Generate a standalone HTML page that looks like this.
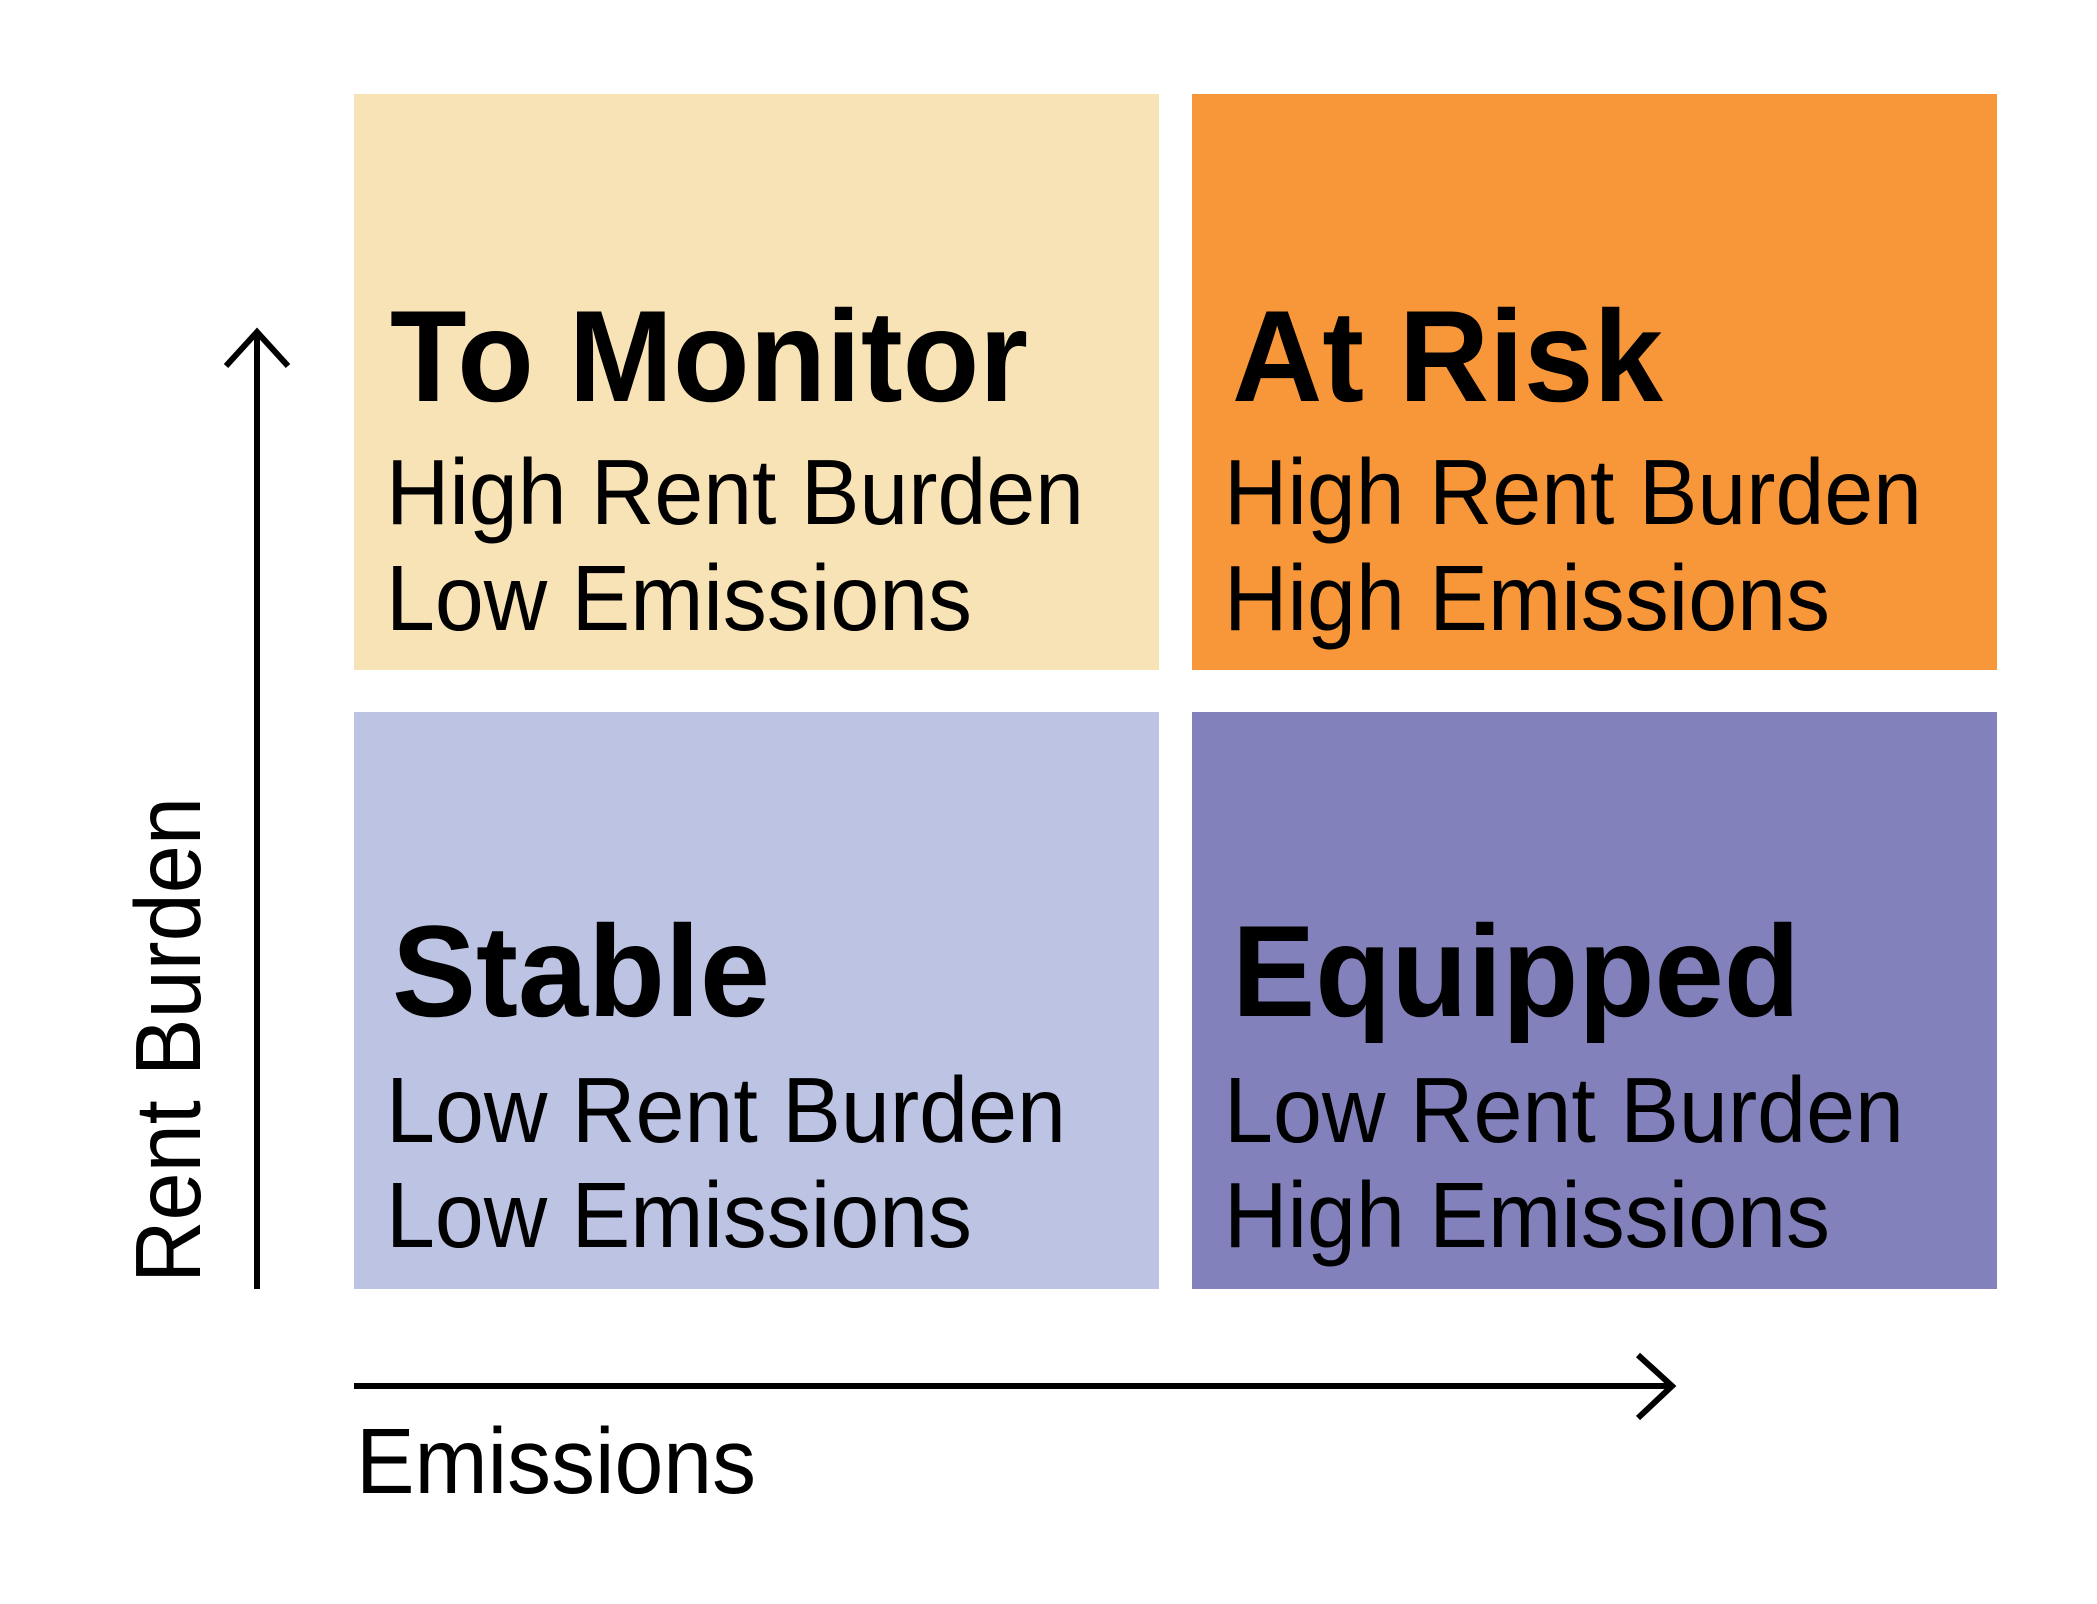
<!DOCTYPE html>
<html><head><meta charset="utf-8"><style>
html,body{margin:0;padding:0;background:#fff;}
svg{display:block;font-family:"Liberation Sans",Arial,sans-serif;}
</style></head><body>
<svg width="2097" height="1604" viewBox="0 0 2097 1604">
<g>
<rect x="354" y="94" width="805" height="576" fill="#F8E3B6"/>
<text x="390" y="401" font-size="130" font-weight="bold" textLength="638" lengthAdjust="spacingAndGlyphs">To Monitor</text>
<text x="386" y="524" font-size="93" textLength="698" lengthAdjust="spacingAndGlyphs">High Rent Burden</text>
<text x="386" y="630" font-size="93" textLength="586" lengthAdjust="spacingAndGlyphs">Low Emissions</text>
</g>
<g>
<rect x="1192" y="94" width="805" height="576" fill="#F79739"/>
<text x="1232" y="401" font-size="130" font-weight="bold" textLength="431" lengthAdjust="spacingAndGlyphs">At Risk</text>
<text x="1224" y="524" font-size="93" textLength="698" lengthAdjust="spacingAndGlyphs">High Rent Burden</text>
<text x="1224" y="630" font-size="93" textLength="606" lengthAdjust="spacingAndGlyphs">High Emissions</text>
</g>
<g>
<rect x="354" y="712" width="805" height="577" fill="#BDC3E3"/>
<text x="392" y="1016" font-size="130" font-weight="bold" textLength="378" lengthAdjust="spacingAndGlyphs">Stable</text>
<text x="386" y="1142" font-size="93" textLength="680" lengthAdjust="spacingAndGlyphs">Low Rent Burden</text>
<text x="386" y="1247" font-size="93" textLength="586" lengthAdjust="spacingAndGlyphs">Low Emissions</text>
</g>
<g>
<rect x="1192" y="712" width="805" height="577" fill="#8381BB"/>
<text x="1232" y="1016" font-size="130" font-weight="bold" textLength="568" lengthAdjust="spacingAndGlyphs">Equipped</text>
<text x="1224" y="1142" font-size="93" textLength="680" lengthAdjust="spacingAndGlyphs">Low Rent Burden</text>
<text x="1224" y="1247" font-size="93" textLength="606" lengthAdjust="spacingAndGlyphs">High Emissions</text>
</g>
<g stroke="#000" stroke-width="6" fill="none">
<line x1="257" y1="1289" x2="257" y2="332"/>
<polyline points="226,366 257,332 288,366"/>
</g>
<text transform="translate(200,1283) rotate(-90)" font-size="93" textLength="486" lengthAdjust="spacingAndGlyphs">Rent Burden</text>
<g stroke="#000" stroke-width="6" fill="none">
<line x1="354" y1="1386" x2="1672" y2="1386"/>
<polyline points="1638,1355 1672,1386 1638,1418"/>
</g>
<text x="356" y="1493" font-size="93" textLength="400" lengthAdjust="spacingAndGlyphs">Emissions</text>
</svg>
</body></html>
